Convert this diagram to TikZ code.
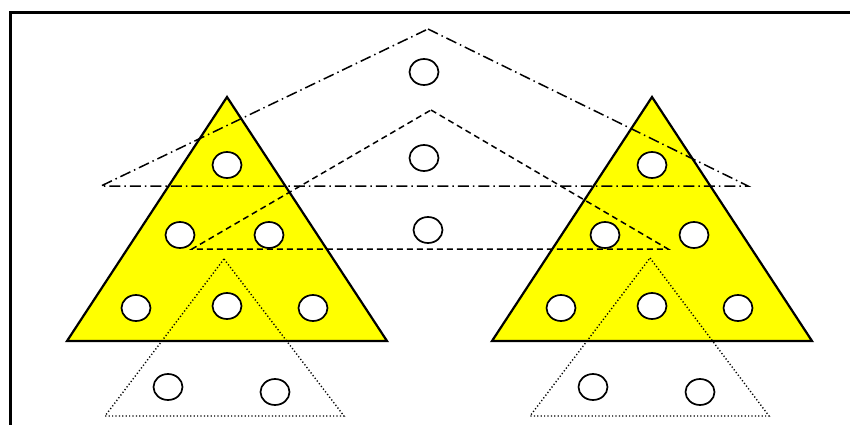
\documentclass[tikz,border=0pt]{standalone}
\usetikzlibrary{shapes.geometric}
\definecolor{pureyellow}{RGB}{255,255,0}
\begin{document}
\begin{tikzpicture}[x=1pt,y=-1pt,
  hole/.style={ellipse,draw,fill=white,line width=1.7pt,minimum width=29pt,minimum height=26pt,inner sep=0pt},
  bigtri/.style={draw,fill=pureyellow,line width=2.2pt,line join=miter},
  dashdottri/.style={draw,line width=1.5pt,dash pattern=on 11pt off 4pt on 1.5pt off 4pt},
  dashedtri/.style={draw,line width=1.5pt,dash pattern=on 6pt off 4pt},
  dottedtri/.style={draw,line width=1.4pt,dash pattern=on 1.2pt off 2.2pt},
  frameline/.style={draw,line width=3.4pt}]
\useasboundingbox (0,0) rectangle (850,425);
\fill[white] (0,0) rectangle (850,425);
\draw[frameline] (10.5,440) -- (10.5,12.5) -- (860,12.5);
% yellow triangles
\path[bigtri] (227,97) -- (387,341) -- (67,341) -- cycle;
\path[bigtri] (652,97) -- (812,341) -- (492,341) -- cycle;
% dash-dot and dashed triangles
\path[dashdottri] (428,29) -- (748,186) -- (101,186) -- cycle;
\path[dashedtri] (431,110) -- (668,249) -- (192,249) -- cycle;
% dotted triangles
\path[dottedtri] (224,259) -- (344,416) -- (105,416) -- cycle;
\path[dottedtri] (650,258) -- (769,416) -- (530,416) -- cycle;
% holes
\node[hole] (t1) at (424,72) {};
\node[hole] (t2) at (424,158) {};
\node[hole] (t3) at (428,230) {};
\node[hole] (l1) at (227,165) {};
\node[hole] (l2) at (180,235) {};
\node[hole] (l3) at (269,235) {};
\node[hole] (l4) at (136,308) {};
\node[hole] (l5) at (227,306) {};
\node[hole] (l6) at (313,308) {};
\node[hole] (r1) at (652,165) {};
\node[hole] (r2) at (605,235) {};
\node[hole] (r3) at (694,235) {};
\node[hole] (r4) at (561,308) {};
\node[hole] (r5) at (652,306) {};
\node[hole] (r6) at (738,308) {};
\node[hole] (b1) at (168,387) {};
\node[hole] (b2) at (275,392) {};
\node[hole] (b3) at (593,387) {};
\node[hole] (b4) at (700,392) {};
\end{tikzpicture}
\end{document}
